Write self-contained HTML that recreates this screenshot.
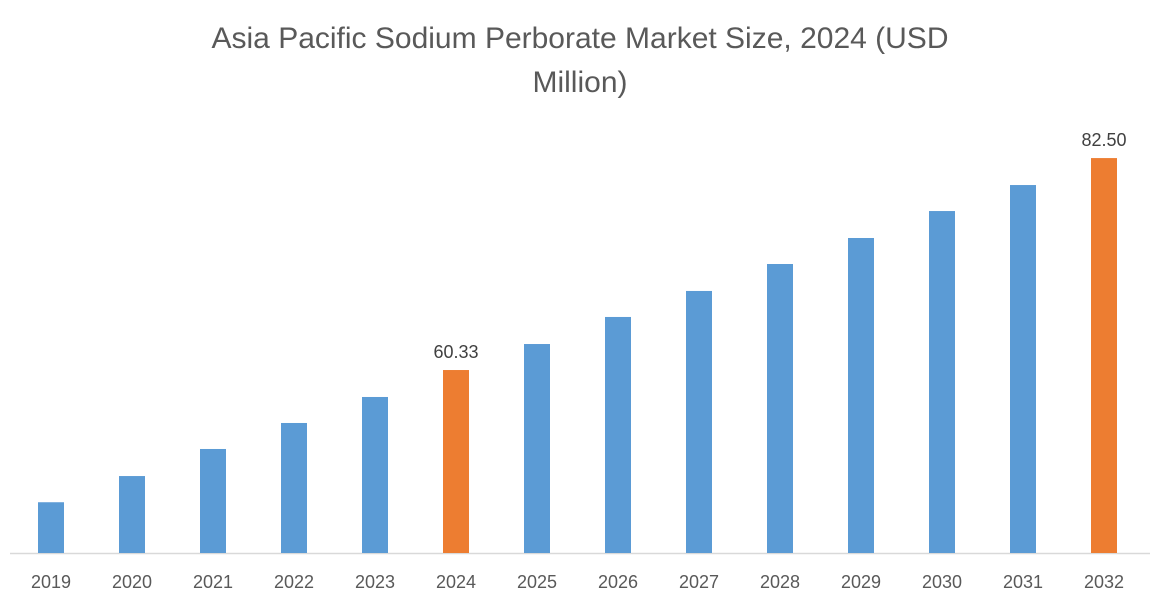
<!DOCTYPE html>
<html><head><meta charset="utf-8"><style>
body{margin:0;background:#fff;}
svg{display:block;font-family:"Liberation Sans",sans-serif;}
</style></head><body>
<svg id="chart" width="1161" height="600">
<text x="580" y="48" text-anchor="middle" font-size="30" fill="#595959">Asia Pacific Sodium Perborate Market Size, 2024 (USD</text>
<text x="580" y="92" text-anchor="middle" font-size="30" fill="#595959">Million)</text>
<line x1="10" y1="553.5" x2="1150" y2="553.5" stroke="#d9d9d9" stroke-width="1.5"/>
<g id="bars"></g>
</svg>
<script>
const categories=["2019","2020","2021","2022","2023","2024","2025","2026","2027","2028","2029","2030","2031","2032"];
const values=[46.5,49.24,52.07,54.79,57.51,60.33,63.05,65.88,68.6,71.42,74.14,76.96,79.68,82.5];
const highlighted=["2024","2032"];
const labels={"2024":"60.33","2032":"82.50"};
const yMin=41.19, pxPerUnit=9.56, baseY=553;
function y(v){return baseY-(v-yMin)*pxPerUnit;}
function xc(i){return 51+i*81;}
const g=document.getElementById('bars');
const ns="http://www.w3.org/2000/svg";
categories.forEach((c,i)=>{
  const r=document.createElementNS(ns,'rect');
  r.setAttribute('x',xc(i)-13);r.setAttribute('width',26);
  r.setAttribute('y',y(values[i]));r.setAttribute('height',baseY-y(values[i]));
  r.setAttribute('fill',highlighted.includes(c)?'#ED7D31':'#5B9BD5');
  
  
  g.appendChild(r);
  const t=document.createElementNS(ns,'text');
  t.setAttribute('x',xc(i));t.setAttribute('y',588);t.setAttribute('text-anchor','middle');
  t.setAttribute('font-size','18');t.setAttribute('fill','#595959');t.textContent=c;
  
  
  g.appendChild(t);
  if(labels[c]){
    const l=document.createElementNS(ns,'text');
    l.setAttribute('x',xc(i));l.setAttribute('y',y(values[i])-12);l.setAttribute('text-anchor','middle');
    l.setAttribute('font-size','18');l.setAttribute('fill','#404040');l.textContent=labels[c];
    
    
    g.appendChild(l);
  }
});
</script>
</body></html>
